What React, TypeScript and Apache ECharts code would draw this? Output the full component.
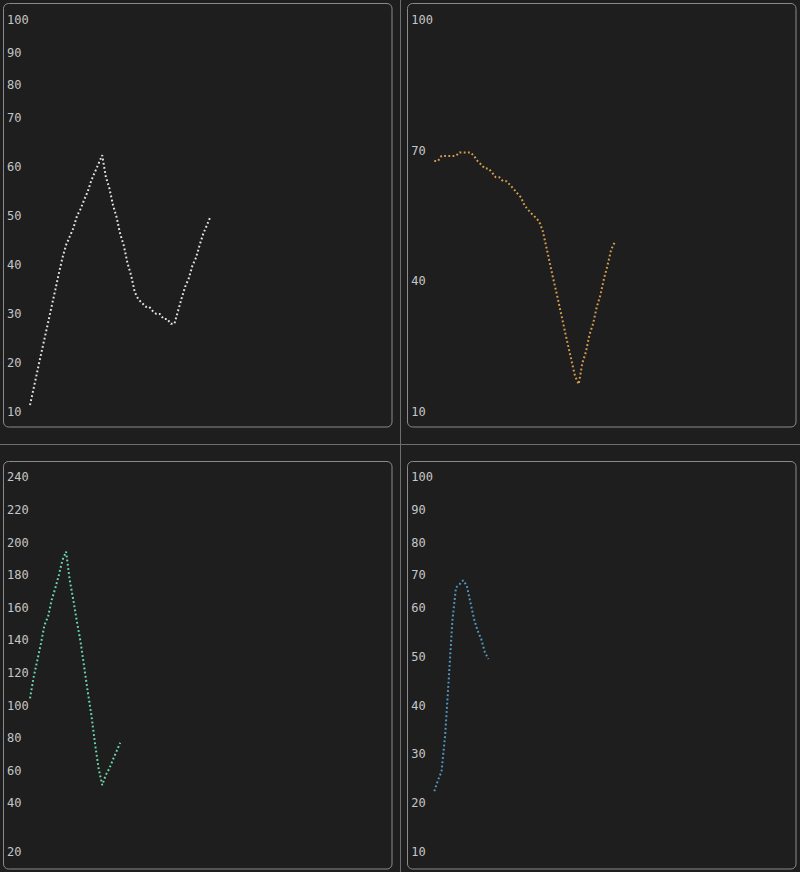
import React, { useEffect, useRef } from "react";
import * as echarts from "echarts";

// ---- data ----
const cpuValues = [11.4, 14.8, 18.2, 21.6, 24.9, 28.2, 31.6, 34.9, 38.3, 41.5, 44.1, 45.8, 47.5, 50.0, 51.4, 53.3, 55.0, 57.3, 59.0, 60.7, 62.4, 58.0, 55.6, 52.2, 49.7, 46.3, 43.9, 40.4, 37.9, 34.5, 33.0, 32.3, 31.5, 31.5, 30.6, 30.0, 30.0, 29.0, 29.0, 28.0, 28.0, 30.6, 33.2, 35.6, 37.3, 39.9, 41.5, 44.1, 46.4, 48.1, 49.9];
const memValues = [67.6, 67.6, 68.8, 68.8, 68.8, 68.8, 68.8, 69.6, 69.6, 69.6, 69.6, 68.8, 67.6, 66.8, 65.9, 65.9, 65.0, 63.9, 63.9, 63.0, 63.0, 62.1, 61.2, 60.2, 59.3, 57.4, 56.4, 55.5, 54.7, 53.8, 51.7, 48.0, 44.2, 40.4, 36.8, 33.0, 29.2, 25.5, 21.8, 18.2, 16.4, 21.2, 23.8, 27.8, 30.3, 34.1, 36.8, 40.6, 43.7, 47.3, 49.0];
const netValues = [104.4, 117.3, 127.5, 137.7, 149.4, 154.5, 164.7, 171.9, 180.1, 189.3, 194.4, 177.0, 164.7, 151.4, 139.2, 123.8, 108.5, 94.2, 76.8, 61.5, 51.2, 57.4, 61.5, 67.0, 72.1, 77.2];
const diskValues = [22.5, 24.7, 26.5, 33.9, 45.4, 57.3, 64.1, 64.8, 65.6, 64.5, 61.1, 57.7, 55.3, 53.6, 50.9, 49.5];

const cpuTickLabels = ["100", "90", "80", "70", "60", "50", "40", "30", "20", "10"];
const memTickLabels = ["100", "70", "40", "10"];
const netTickLabels = ["240", "220", "200", "180", "160", "140", "120", "100", "80", "60", "40", "20"];
const diskTickLabels = ["100", "90", "80", "70", "60", "50", "40", "30", "20", "10"];

// terminal text-row layout of each panel's tick labels
const panels = [
  { values: cpuValues, labels: cpuTickLabels, labelRows: [0, 2, 4, 6, 9, 12, 15, 18, 21, 24], rows: 24, yMin: 10, yMax: 90, color: "#e2e2e2", left: 30, top: 20, height: 392 },
  { values: memValues, labels: memTickLabels, labelRows: [0, 8, 16, 24], rows: 24, yMin: 10, yMax: 100, color: "#d49d4f", left: 434.3, top: 20, height: 392 },
  { values: netValues, labels: netTickLabels, labelRows: [0, 2, 4, 6, 8, 10, 12, 14, 16, 18, 20, 23], rows: 23, yMin: 10, yMax: 240, color: "#6ad8a9", left: 30, top: 477.3, height: 375 },
  { values: diskValues, labels: diskTickLabels, labelRows: [0, 2, 4, 6, 8, 11, 14, 17, 20, 23], rows: 23, yMin: 10, yMax: 60 + 80 / 3, color: "#5199c2", left: 434.3, top: 477.3, height: 375 },
];

const BG = "#1f1e1e";
const BORDER = "#8a8a8a";
const SEP = "#6e6e6e";
const TEXT = "#c6c6c6";
const FONT = "'DejaVu Sans Mono', monospace";

export default function App() {
  const ref = useRef<HTMLDivElement>(null);

  useEffect(() => {
    document.body.style.margin = "0";
    document.body.style.background = BG;
    const chart = echarts.init(ref.current!, null, { renderer: "svg" });

    const grids: any[] = [];
    const xAxes: any[] = [];
    const yAxes: any[] = [];
    const series: any[] = [];

    panels.forEach((p, i) => {
      grids.push({ left: p.left, top: p.top, width: 361, height: p.height, containLabel: false });
      xAxes.push({ type: "value", gridIndex: i, min: 0, max: 100, show: false });
      // data axis (hidden)
      yAxes.push({ type: "value", gridIndex: i, min: p.yMin, max: p.yMax, show: false });
      // label axis in text rows
      const labelMap: Record<number, string> = {};
      p.labelRows.forEach((r, k) => (labelMap[r] = p.labels[k]));
      yAxes.push({
        type: "value",
        gridIndex: i,
        min: 0,
        max: p.rows,
        interval: 1,
        inverse: true,
        position: "left",
        axisLine: { show: false },
        axisTick: { show: false },
        splitLine: { show: false },
        axisLabel: {
          show: true,
          align: "left",
          margin: 23,
          color: TEXT,
          fontFamily: FONT,
          fontSize: 12,
          formatter: (v: number) => labelMap[Math.round(v)] ?? "",
        },
      });
      series.push({
        type: "line",
        xAxisIndex: i,
        yAxisIndex: i * 2,
        data: p.values.map((v, k) => [k, v]),
        showSymbol: false,
        symbol: "none",
        lineStyle: { color: p.color, width: 2, type: [1.8, 2.4], cap: "butt" },
        silent: true,
      });
    });

    const frames = [
      { x: 3.5, y: 3.5, w: 388.5, h: 423.5 },
      { x: 407.5, y: 3.5, w: 388.5, h: 423.5 },
      { x: 3.5, y: 461.5, w: 388.5, h: 407.5 },
      { x: 407.5, y: 461.5, w: 388.5, h: 407.5 },
    ];

    chart.setOption({
      animation: false,
      backgroundColor: BG,
      grid: grids,
      xAxis: xAxes,
      yAxis: yAxes,
      series,
      graphic: [
        { type: "line", shape: { x1: 0, y1: 444.5, x2: 800, y2: 444.5 }, style: { stroke: SEP, lineWidth: 1 }, silent: true },
        { type: "line", shape: { x1: 400.5, y1: 0, x2: 400.5, y2: 872 }, style: { stroke: SEP, lineWidth: 1 }, silent: true },
        ...frames.map((f) => ({
          type: "rect",
          shape: { x: f.x, y: f.y, width: f.w, height: f.h, r: 5 },
          style: { fill: "none", stroke: BORDER, lineWidth: 1 },
          silent: true,
        })),
      ],
    });

    return () => chart.dispose();
  }, []);

  return (
    <div style={{ position: "fixed", left: 0, top: 0, width: 800, height: 872, background: BG }}>
      <div ref={ref} style={{ width: 800, height: 872 }} />
    </div>
  );
}
